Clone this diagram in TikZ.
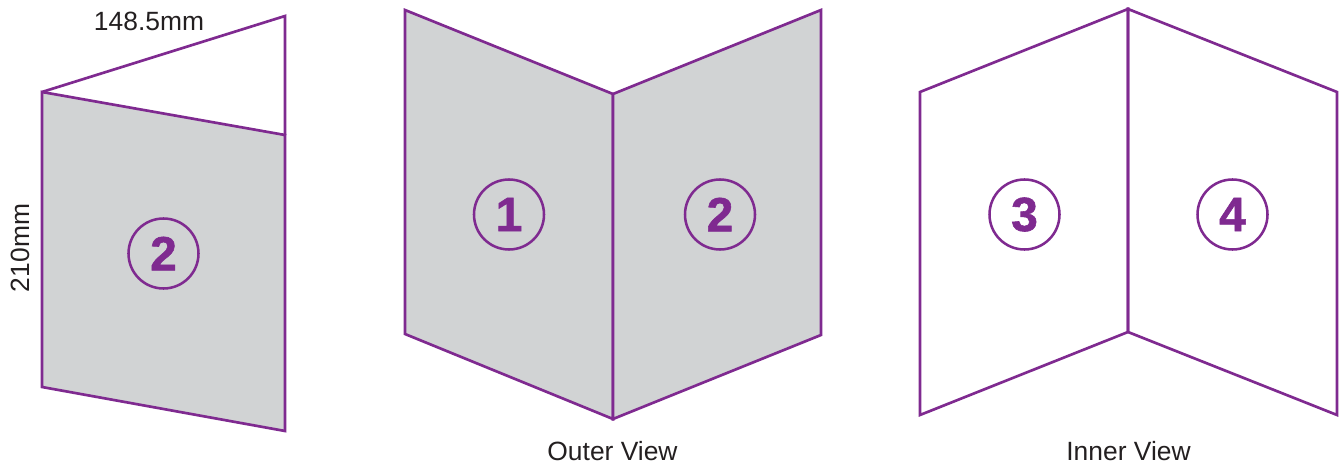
\documentclass[tikz,border=0pt]{standalone}
\usepackage{fontspec}
\setmainfont{Liberation Sans}
\newfontfamily\pagefont[FakeBold=1.2]{Liberation Sans Bold}
\usetikzlibrary{positioning}
\definecolor{foldpurple}{HTML}{7F2A90}
\definecolor{foldgrey}{HTML}{D1D3D4}
\definecolor{foldtext}{HTML}{231F20}
\tikzset{
  panel/.style={draw=foldpurple, line width=2pt, line join=miter},
  outerpanel/.style={panel, fill=foldgrey},
  pagenum/.style={draw=foldpurple, circle, line width=1.9pt, minimum size=52.5pt, inner sep=0pt,
    text=foldpurple, font=\fontsize{36}{36}\pagefont},
  lbl/.style={text=foldtext, inner sep=0pt, font=\fontsize{19.8}{20}\selectfont},
}
\begin{document}
\begin{tikzpicture}[x=0.75pt, y=-0.75pt]
  \useasboundingbox (0,0) rectangle (1343,471);
  % folded leaflet
  \draw[panel] (42,92) -- (285,16) -- (285,135);
  \draw[outerpanel] (42,92) -- (285,135) -- (285,431) -- (42,387) -- cycle;
  \node[pagenum] (fold2) at (163.5,253.5) {2};
  \node[lbl] (width) at (149,21) {148.5mm};
  \node[lbl, rotate=90] (height) at (20,248) {210mm};
  % outer view
  \draw[outerpanel] (405,10) -- (613,94) -- (613,419) -- (405,334) -- cycle;
  \draw[outerpanel] (613,94) -- (821,10) -- (821,335) -- (613,419) -- cycle;
  \node[pagenum] (outer1) at (509,214.5) {1};
  \node[pagenum] (outer2) at (720,214.5) {2};
  \node[lbl] (outerview) at (612.5,451) {Outer View};
  % inner view
  \draw[panel] (920,92) -- (1128,9) -- (1128,332) -- (920,415) -- cycle;
  \draw[panel] (1128,9) -- (1337,92) -- (1337,415) -- (1128,332) -- cycle;
  \node[pagenum] (inner3) at (1024.5,214.5) {3};
  \node[pagenum] (inner4) at (1232.5,214.5) {4};
  \node[lbl] (innerview) at (1128.5,451) {Inner View};
\end{tikzpicture}
\end{document}
